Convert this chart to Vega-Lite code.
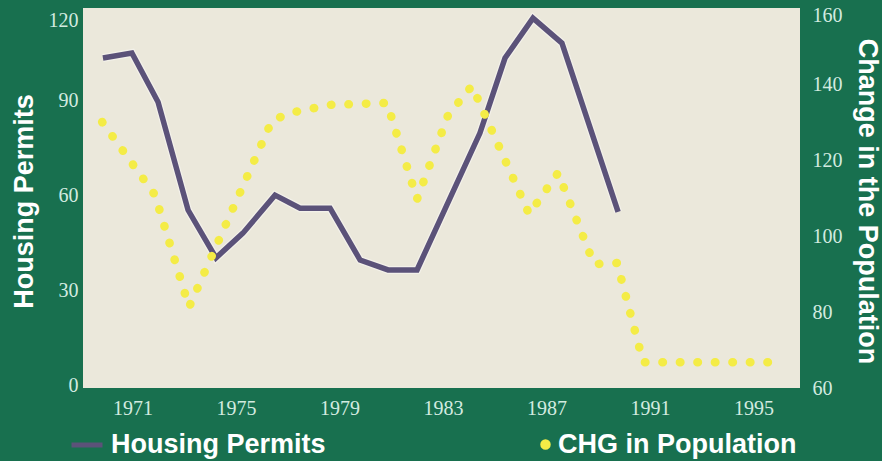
{
  "$schema": "https://vega.github.io/schema/vega-lite/v6.json",
  "width": 717,
  "height": 380,
  "autosize": {"type": "none"},
  "padding": {"left": 83, "top": 8, "right": 82, "bottom": 73},
  "background": "#18704f",
  "config": {
    "view": {"fill": "#ebe8db", "stroke": null},
    "axis": {
      "grid": false, "domain": false, "ticks": false,
      "labelFont": "Liberation Serif", "labelFontSize": 20, "labelColor": "#d3ebe0",
      "titleFont": "Liberation Sans", "titleFontWeight": "bold", "titleFontSize": 27, "titleColor": "#ffffff"
    },
    "legend": {
      "title": null,
      "labelFont": "Liberation Sans", "labelFontWeight": "bold", "labelFontSize": 27,
      "labelColor": "#ffffff", "labelLimit": 400, "padding": 0
    }
  },
  "datasets": {
    "permits": [
      {"year": 1969.86, "permits": 104.2},
      {"year": 1970.98, "permits": 105.8},
      {"year": 1971.99, "permits": 90.3},
      {"year": 1973.15, "permits": 56.2},
      {"year": 1974.23, "permits": 41.1},
      {"year": 1975.27, "permits": 48.9},
      {"year": 1976.51, "permits": 60.9},
      {"year": 1977.48, "permits": 56.8},
      {"year": 1978.64, "permits": 56.8},
      {"year": 1979.80, "permits": 40.4},
      {"year": 1980.88, "permits": 37.3},
      {"year": 1982.0, "permits": 37.3},
      {"year": 1984.43, "permits": 80.5},
      {"year": 1985.40, "permits": 104.2},
      {"year": 1986.48, "permits": 116.8},
      {"year": 1987.60, "permits": 108.9},
      {"year": 1989.77, "permits": 55.6}
    ],
    "population": [
      {"year": 1969.83, "chg": 130.0},
      {"year": 1971.87, "chg": 110.8},
      {"year": 1973.19, "chg": 81.3},
      {"year": 1976.39, "chg": 130.3},
      {"year": 1977.09, "chg": 132.4},
      {"year": 1978.64, "chg": 134.5},
      {"year": 1980.84, "chg": 135.0},
      {"year": 1982.0, "chg": 109.7},
      {"year": 1983.2, "chg": 131.8},
      {"year": 1984.12, "chg": 139.5},
      {"year": 1986.33, "chg": 105.8},
      {"year": 1987.45, "chg": 116.6},
      {"year": 1988.84, "chg": 92.6},
      {"year": 1989.73, "chg": 92.9},
      {"year": 1990.74, "chg": 66.8},
      {"year": 1996.03, "chg": 66.8}
    ]
  },
  "layer": [
    {
      "data": {"name": "permits"},
      "encoding": {
        "x": {
          "field": "year", "type": "quantitative",
          "scale": {"domain": [1969.09, 1996.8], "nice": false, "zero": false},
          "axis": {"values": [1971, 1975, 1979, 1983, 1987, 1991, 1995], "format": "d", "title": null, "labelPadding": 10}
        },
        "y": {
          "field": "permits", "type": "quantitative",
          "scale": {"domain": [0, 120], "nice": false},
          "axis": {
            "orient": "left", "values": [0, 30, 60, 90, 120],
            "title": "Housing Permits", "titleAngle": -90, "titleX": -59, "titleY": 193,
            "titleAlign": "center", "titleBaseline": "middle",
            "labelPadding": 5,
            "labelOffset": {"condition": {"test": "datum.value == 120", "value": 12}, "value": -3}
          }
        }
      },
      "layer": [
        {"mark": {"type": "line", "stroke": "#f3f1ea", "strokeWidth": 8, "strokeJoin": "miter"}},
        {
          "mark": {"type": "line", "strokeWidth": 5.5, "strokeJoin": "miter"},
          "encoding": {
            "color": {
              "datum": "Housing Permits", "type": "nominal",
              "scale": {"range": ["#5b5279"]},
              "legend": {
                "orient": "none", "legendX": -14, "legendY": 419,
                "symbolType": "stroke", "symbolSize": 961, "symbolStrokeWidth": 5,
                "labelOffset": 6
              }
            }
          }
        }
      ]
    },
    {
      "data": {"name": "population"},
      "mark": {"type": "line", "strokeWidth": 8.5, "strokeCap": "round", "strokeDash": [0.5, 17]},
      "encoding": {
        "x": {
          "field": "year", "type": "quantitative",
          "scale": {"domain": [1969.09, 1996.8], "nice": false, "zero": false}
        },
        "y": {
          "field": "chg", "type": "quantitative",
          "scale": {"domain": [60, 160], "nice": false, "zero": false},
          "axis": {
            "orient": "right", "values": [60, 80, 100, 120, 140, 160],
            "title": "Change in the Population", "titleAngle": 90, "titleX": 66, "titleY": 193,
            "titleAlign": "center", "titleBaseline": "middle",
            "labelPadding": 12, "labelAlign": "left",
            "labelOffset": {"condition": {"test": "datum.value == 160", "value": 7}, "value": 0}
          }
        },
        "color": {
          "datum": "CHG in Population", "type": "nominal",
          "scale": {"range": ["#f4ec46"]},
          "legend": {
            "orient": "none", "legendX": 449, "legendY": 423,
            "symbolType": "circle", "symbolSize": 30, "symbolStrokeWidth": 5,
            "symbolFillColor": "#f4ec46", "symbolDash": [],
            "labelOffset": -1
          }
        }
      }
    }
  ],
  "resolve": {"scale": {"y": "independent", "color": "independent"}}
}
